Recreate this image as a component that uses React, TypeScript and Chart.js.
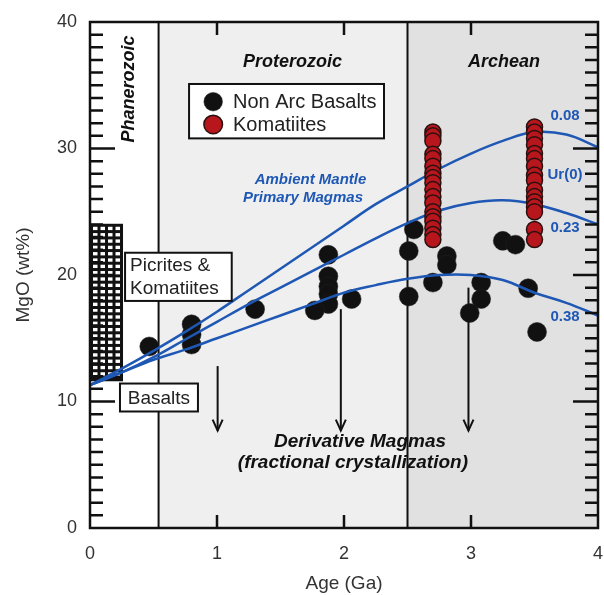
import React, { useEffect, useRef } from "react";
import { Chart, registerables } from "chart.js";

Chart.register(...registerables);

// ---------- data ----------
const CURVE_AGE = [0, 0.25, 0.5, 0.75, 1.0, 1.25, 1.5, 1.75, 2.0, 2.25, 2.5, 2.75, 3.0, 3.25, 3.5, 3.75, 4.0];
const CURVE_008 = [11.3, 12.6, 14.0, 15.5, 17.1, 18.8, 20.5, 22.2, 23.9, 25.6, 27.0, 28.4, 29.6, 30.6, 31.3, 31.1, 30.1];
const CURVE_023 = [11.3, 12.3, 13.5, 14.9, 16.3, 17.7, 19.0, 20.3, 21.6, 22.9, 24.1, 25.1, 25.7, 25.9, 25.6, 24.9, 24.0];
const CURVE_038 = [11.3, 12.3, 13.3, 14.1, 15.0, 15.9, 16.8, 17.7, 18.6, 19.2, 19.7, 20.0, 20.0, 19.6, 18.6, 17.8, 16.8];

const NON_ARC_AGE = [0.467, 0.8, 0.8, 0.8, 1.3, 1.877, 1.877, 1.877, 1.877, 1.877, 1.77, 2.06, 2.51, 2.51, 2.55, 2.7, 2.81, 2.81, 3.08, 3.08, 2.99, 3.25, 3.35, 3.45, 3.52];
const NON_ARC_MGO = [14.35, 16.1, 15.3, 14.5, 17.3, 21.6, 19.9, 19.1, 18.5, 17.7, 17.2, 18.1, 21.9, 18.3, 23.6, 19.4, 21.5, 20.8, 19.4, 18.1, 17.0, 22.7, 22.4, 18.95, 15.5];

const KOMA_AGE = [
  2.7, 2.7, 2.7, 2.7, 2.7, 2.7, 2.7, 2.7, 2.7, 2.7, 2.7, 2.7, 2.7, 2.7, 2.7, 2.7, 2.7, 2.7,
  3.5, 3.5, 3.5, 3.5, 3.5, 3.5, 3.5, 3.5, 3.5, 3.5, 3.5, 3.5, 3.5, 3.5, 3.5, 3.5,
];
const KOMA_MGO = [
  31.3, 31.0, 30.6, 29.55, 29.2, 28.6, 28.05, 27.7, 27.3, 26.75, 26.2, 25.7, 25.0, 24.6, 24.25, 23.7, 23.2, 22.8,
  31.7, 31.3, 30.8, 30.3, 29.6, 29.2, 28.6, 27.9, 27.5, 26.7, 26.2, 25.8, 25.4, 25.0, 23.6, 22.8,
];

const SERIES_LABELS = ["Non Arc Basalts", "Komatiites"];
const CURVE_LABELS = ["0.08", "Ur(0)", "0.23", "0.38"];
const ERA_LABELS = ["Phanerozoic", "Proterozoic", "Archean"];
const ERA_BOUNDS = [0, 0.54, 2.5, 4];
const X_TICKS = [0, 1, 2, 3, 4];
const Y_TICKS = [0, 10, 20, 30, 40];

// ---------- styles ----------
const FONT = '"Liberation Sans", Arial, Helvetica, sans-serif';
const BLUE = "#1f58b4";
const TXT = "#333333";

function toPts(xs: number[], ys: number[]) {
  return xs.map((x, i) => ({ x, y: ys[i] }));
}

const decor = {
  id: "decor",
  beforeDatasetsDraw(chart: any) {
    const { ctx, chartArea: ca, scales } = chart;
    const xs = scales.x;
    const ys = scales.y;
    const X = (v: number) => xs.getPixelForValue(v);
    const Y = (v: number) => ys.getPixelForValue(v);
    ctx.save();
    // era backgrounds
    ctx.fillStyle = "#efefef";
    ctx.fillRect(X(ERA_BOUNDS[1]), ca.top, X(ERA_BOUNDS[2]) - X(ERA_BOUNDS[1]), ca.bottom - ca.top);
    ctx.fillStyle = "#e1e1e1";
    ctx.fillRect(X(ERA_BOUNDS[2]), ca.top, X(ERA_BOUNDS[3]) - X(ERA_BOUNDS[2]), ca.bottom - ca.top);

    // era boundaries
    ctx.strokeStyle = "#111";
    ctx.lineWidth = 2;
    [ERA_BOUNDS[1], ERA_BOUNDS[2]].forEach((b) => {
      ctx.beginPath();
      ctx.moveTo(X(b), ca.top);
      ctx.lineTo(X(b), ca.bottom);
      ctx.stroke();
    });

    // hatched box (picrites & komatiites range)
    const hx0 = X(0), hx1 = X(0.26), hy0 = Y(24.05), hy1 = Y(11.6);
    ctx.fillStyle = "#111";
    ctx.fillRect(hx0, hy0, hx1 - hx0, hy1 - hy0);
    ctx.fillStyle = "#ffffff";
    const colPitch = (hx1 - hx0 - 3) / 4;
    const rowPitch = Math.abs(Y(0.5) - Y(0));
    for (let c = 0; c < 4; c++) {
      for (let yy = hy0 + 3; yy + 3.5 <= hy1 - 2; yy += rowPitch) {
        ctx.fillRect(hx0 + 3 + c * colPitch, yy, colPitch - 3, rowPitch - 3);
      }
    }

    // arrows (derivative magmas)
    const arrows = [
      [1.005, 12.8, 7.7],
      [1.975, 17.3, 7.7],
      [2.98, 19.0, 7.7],
    ];
    ctx.strokeStyle = "#111";
    ctx.lineWidth = 2;
    arrows.forEach(([ax, a0, a1]) => {
      const px = X(ax);
      const t = Y(a1);
      ctx.beginPath();
      ctx.moveTo(px, Y(a0));
      ctx.lineTo(px, t);
      ctx.stroke();
      ctx.beginPath();
      ctx.moveTo(px - 5, t - 11);
      ctx.lineTo(px, t);
      ctx.lineTo(px + 5, t - 11);
      ctx.stroke();
    });
    ctx.restore();
  },
  afterDatasetsDraw(chart: any) {
    const { ctx, chartArea: ca, scales } = chart;
    const xs = scales.x;
    const ys = scales.y;
    const X = (v: number) => xs.getPixelForValue(v);
    const Y = (v: number) => ys.getPixelForValue(v);
    ctx.save();

    // inward tick marks
    ctx.strokeStyle = "#111";
    ctx.lineWidth = 2.5;
    for (let v = ys.min + 1; v < ys.max; v++) {
      const major = v % 10 === 0;
      const len = major ? 25 : 13;
      const py = Y(v);
      ctx.beginPath();
      ctx.moveTo(ca.left, py);
      ctx.lineTo(ca.left + len, py);
      ctx.moveTo(ca.right, py);
      ctx.lineTo(ca.right - len, py);
      ctx.stroke();
    }
    X_TICKS.slice(1, -1).forEach((v) => {
      const px = X(v);
      ctx.beginPath();
      ctx.moveTo(px, ca.bottom);
      ctx.lineTo(px, ca.bottom - 13);
      ctx.moveTo(px, ca.top);
      ctx.lineTo(px, ca.top + 13);
      ctx.stroke();
    });

    // frame
    ctx.lineWidth = 2.5;
    ctx.strokeRect(ca.left, ca.top, ca.right - ca.left, ca.bottom - ca.top);

    // era labels
    ctx.fillStyle = "#111";
    ctx.font = `italic bold 18px ${FONT}`;
    ctx.textAlign = "center";
    ctx.textBaseline = "middle";
    ctx.fillText(ERA_LABELS[1], X(1.595), Y(36.85));
    ctx.fillText(ERA_LABELS[2], X(3.26), Y(36.85));
    ctx.save();
    ctx.translate(X(0.31), Y(34.7));
    ctx.rotate(-Math.PI / 2);
    ctx.fillText(ERA_LABELS[0], 0, 0);
    ctx.restore();

    // legend box
    const lx0 = X(0.78), lx1 = X(2.315), ly0 = Y(35.1), ly1 = Y(30.8);
    ctx.fillStyle = "#ffffff";
    ctx.fillRect(lx0, ly0, lx1 - lx0, ly1 - ly0);
    ctx.strokeStyle = "#111";
    ctx.lineWidth = 2;
    ctx.strokeRect(lx0, ly0, lx1 - lx0, ly1 - ly0);
    const ds = chart.data.datasets;
    const legendItems = [ds[3], ds[4]];
    const legendY = [33.7, 31.9];
    legendItems.forEach((d: any, i: number) => {
      ctx.beginPath();
      ctx.arc(X(0.97), Y(legendY[i]), 9.3, 0, Math.PI * 2);
      ctx.fillStyle = d.backgroundColor;
      ctx.fill();
      ctx.lineWidth = d.borderWidth || 1;
      ctx.strokeStyle = d.borderColor;
      ctx.stroke();
      ctx.fillStyle = "#222";
      ctx.font = `20px ${FONT}`;
      ctx.textAlign = "left";
      ctx.textBaseline = "middle";
      ctx.fillText(SERIES_LABELS[i], X(1.126), Y(legendY[i]) + 1);
    });

    // Picrites & Komatiites box
    const px0 = X(0.276), px1 = X(1.116), py0 = Y(21.76), py1 = Y(17.95);
    ctx.fillStyle = "#ffffff";
    ctx.fillRect(px0, py0, px1 - px0, py1 - py0);
    ctx.strokeStyle = "#111";
    ctx.lineWidth = 2;
    ctx.strokeRect(px0, py0, px1 - px0, py1 - py0);
    ctx.fillStyle = "#222";
    ctx.font = `19px ${FONT}`;
    ctx.textAlign = "left";
    ctx.fillText("Picrites &", X(0.315), Y(20.7));
    ctx.fillText("Komatiites", X(0.315), Y(18.9));

    // Basalts box
    const bx0 = X(0.236), bx1 = X(0.85), by0 = Y(11.42), by1 = Y(9.21);
    ctx.fillStyle = "#ffffff";
    ctx.fillRect(bx0, by0, bx1 - bx0, by1 - by0);
    ctx.strokeRect(bx0, by0, bx1 - bx0, by1 - by0);
    ctx.fillStyle = "#222";
    ctx.textAlign = "center";
    ctx.fillText("Basalts", X(0.543), Y(10.25));

    // Ambient mantle text
    ctx.fillStyle = BLUE;
    ctx.font = `italic bold 15px ${FONT}`;
    ctx.fillText("Ambient Mantle", X(1.736), Y(27.56));
    ctx.fillText("Primary Magmas", X(1.677), Y(26.06));

    // curve labels
    ctx.font = `bold 15px ${FONT}`;
    const labelY = [32.6, 27.95, 23.7, 16.7];
    CURVE_LABELS.forEach((t, i) => ctx.fillText(t, X(3.74), Y(labelY[i])));

    // derivative magmas
    ctx.fillStyle = "#111";
    ctx.font = `italic bold 19px ${FONT}`;
    ctx.fillText("Derivative Magmas", X(2.126), Y(6.8));
    ctx.fillText("(fractional crystallization)", X(2.07), Y(5.12));

    ctx.restore();
  },
};

export default function App() {
  const ref = useRef<HTMLCanvasElement>(null);
  useEffect(() => {
    if (!ref.current) return;
    const curve = (data: number[], label: string) => ({
      label,
      data: toPts(CURVE_AGE, data),
      showLine: true,
      tension: 0.4,
      borderColor: BLUE,
      borderWidth: 2.5,
      pointRadius: 0,
      pointHoverRadius: 0,
      fill: false,
      order: 2,
    });
    const chart = new Chart(ref.current, {
      type: "scatter",
      data: {
        datasets: [
          curve(CURVE_008, CURVE_LABELS[0]),
          curve(CURVE_023, CURVE_LABELS[2]),
          curve(CURVE_038, CURVE_LABELS[3]),
          {
            label: SERIES_LABELS[0],
            data: toPts(NON_ARC_AGE, NON_ARC_MGO),
            backgroundColor: "#111111",
            borderColor: "#222222",
            borderWidth: 0.5,
            pointRadius: 9.5,
            order: 3,
          },
          {
            label: SERIES_LABELS[1],
            data: toPts(KOMA_AGE, KOMA_MGO),
            backgroundColor: "#b7161d",
            borderColor: "#2a1010",
            borderWidth: 1.5,
            pointRadius: 8,
            order: 1,
          },
        ] as any,
      },
      options: {
        animation: false,
        responsive: false,
        layout: { padding: { left: 0, top: 22, right: 0, bottom: 0 } },
        plugins: { legend: { display: false }, tooltip: { enabled: false } },
        scales: {
          x: {
            type: "linear",
            min: 0,
            max: 4,
            afterBuildTicks: (s: any) => {
              s.ticks = X_TICKS.map((v) => ({ value: v }));
            },
            afterFit: (s: any) => {
              s.height = 67;
              s.paddingLeft = 0;
              s.paddingRight = 0;
            },
            grid: { display: false, drawTicks: false },
            border: { display: false },
            ticks: { padding: 15, color: TXT, font: { family: FONT, size: 18 } },
            title: {
              display: true,
              text: "Age (Ga)",
              color: TXT,
              font: { family: FONT, size: 19 },
              padding: { top: 0, bottom: 0 },
            },
          },
          y: {
            type: "linear",
            min: 0,
            max: 40,
            afterBuildTicks: (s: any) => {
              s.ticks = Y_TICKS.map((v) => ({ value: v }));
            },
            afterFit: (s: any) => {
              s.width = 90;
              s.paddingTop = 0;
              s.paddingBottom = 0;
            },
            grid: { display: false, drawTicks: false },
            border: { display: false },
            ticks: { padding: 13, color: TXT, font: { family: FONT, size: 18 } },
            title: {
              display: true,
              text: "MgO (wt%)",
              color: TXT,
              font: { family: FONT, size: 19 },
              padding: { top: 12, bottom: 0 },
            },
          },
        },
      } as any,
      plugins: [decor],
    });
    return () => chart.destroy();
  }, []);
  return (
    <div style={{ position: "absolute", left: 0, top: 0, width: 604, height: 595, overflow: "hidden", background: "#fff" }}>
      <canvas ref={ref} width={608} height={595} style={{ display: "block", width: 608, height: 595 }} />
    </div>
  );
}
